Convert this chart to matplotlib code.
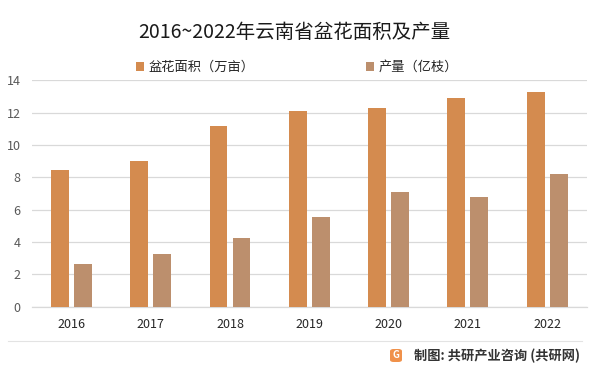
import matplotlib
matplotlib.use("Agg")
import matplotlib.pyplot as plt
import numpy as np
from matplotlib.patches import FancyBboxPatch
from matplotlib.lines import Line2D

plt.rcParams['font.family'] = ['Noto Sans CJK SC', 'DejaVu Sans']

years = ['2016', '2017', '2018', '2019', '2020', '2021', '2022']
area = [8.45, 9.02, 11.16, 12.09, 12.27, 12.89, 13.26]
output = [2.64, 3.25, 4.24, 5.54, 7.08, 6.77, 8.19]
series_names = ['盆花面积（万亩）', '产量（亿枝）']
title = '2016~2022年云南省盆花面积及产量'
footer = '制图: 共研产业咨询 (共研网)'

c_area = '#D48B4F'
c_out = '#BC8F6D'

fig = plt.figure(figsize=(6, 3.71), dpi=100)
ax = fig.add_axes([0.053, 0.173, 0.925, 0.611])

x = np.arange(len(years))
w = 0.225
off = 0.145
ax.bar(x - off, area, w, color=c_area, label=series_names[0], zorder=3)
ax.bar(x + off, output, w, color=c_out, label=series_names[1], zorder=3)

ax.set_xlim(-0.5, len(years) - 0.5)
ax.set_ylim(0, 14)
ax.set_yticks(range(0, 15, 2))
ax.set_xticks(x)
ax.set_xticklabels(years)
ax.grid(axis='y', color='#D9D9D9', linewidth=0.9, zorder=0)
for s in ['top', 'right', 'left']:
    ax.spines[s].set_visible(False)
ax.spines['bottom'].set_color('#D9D9D9')
ax.spines['bottom'].set_linewidth(0.9)
ax.tick_params(axis='y', length=0, labelsize=9, labelcolor='#595959', pad=8)
ax.tick_params(axis='x', length=0, labelsize=9, labelcolor='#262626', pad=8)

fig.text(0.49, 0.912, title, ha='center', va='center', fontsize=14, color='#1a1a1a')

leg = fig.legend(loc='center', bbox_to_anchor=(0.495, 0.818), ncol=2, frameon=False,
                 fontsize=9.5, handlelength=0.6, handleheight=0.6, handletextpad=0.3,
                 columnspacing=8.5)
for t in leg.get_texts():
    t.set_color('#262626')

# separator line
fig.add_artist(Line2D([0.013, 0.97], [1 - 341/371, 1 - 341/371], color='#E3E3E3', linewidth=0.8))

# logo
logo = FancyBboxPatch((390/600, 1 - 362/371), 12/600, 13/371,
                      boxstyle='round,pad=0.0,rounding_size=0.006',
                      transform=fig.transFigure, facecolor='#F0914A', edgecolor='none')
fig.add_artist(logo)
fig.text(396/600, 1 - 355.5/371, 'G', ha='center', va='center', fontsize=7,
         color='white', fontweight='bold')
fig.text(0.69, 1 - 355.5/371, footer, ha='left', va='center', fontsize=9.5,
         color='#333333', fontweight='bold')

fig.savefig('out.png', dpi=100)
